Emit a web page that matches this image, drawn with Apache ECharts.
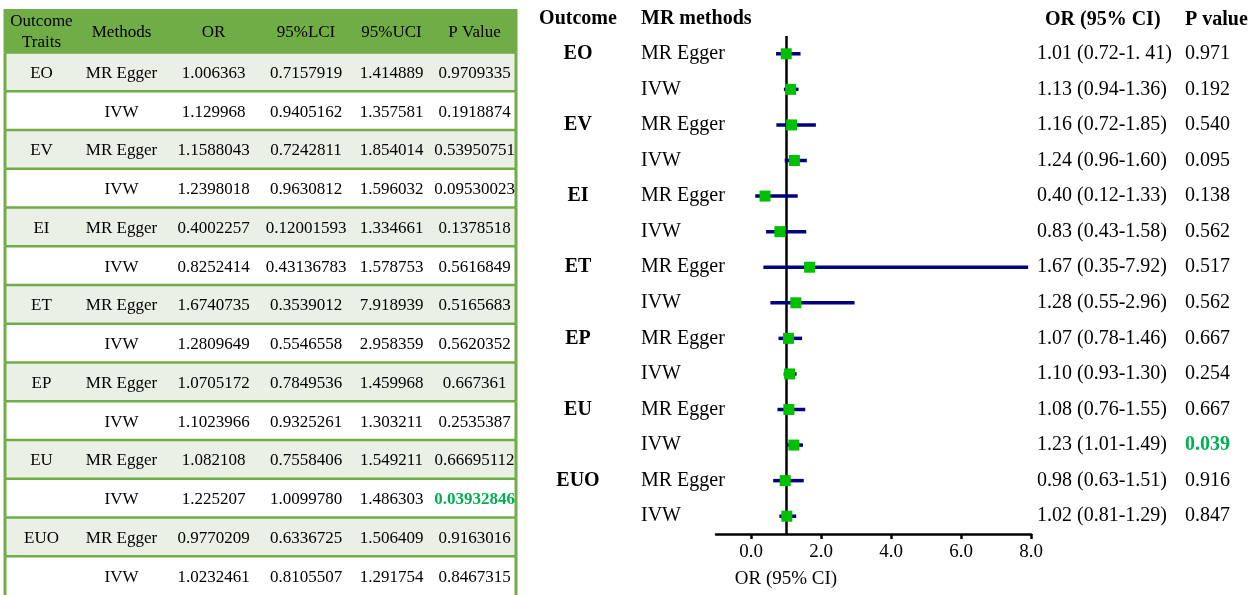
<!DOCTYPE html>
<html><head><meta charset="utf-8">
<script src="https://cdn.jsdelivr.net/npm/echarts@6/dist/echarts.min.js"></script>
<style>html,body{margin:0;padding:0;background:#fff}#c{width:1259px;height:595px}</style>
</head><body><div id="c"></div>
<script>
// ---------- data ----------
const outcomes = ['EO', 'EV', 'EI', 'ET', 'EP', 'EU', 'EUO'];
const methods = ['MR Egger', 'IVW', 'MR Egger', 'IVW', 'MR Egger', 'IVW', 'MR Egger', 'IVW',
                 'MR Egger', 'IVW', 'MR Egger', 'IVW', 'MR Egger', 'IVW'];
const orText  = ['1.006363', '1.129968', '1.1588043', '1.2398018', '0.4002257', '0.8252414', '1.6740735',
                 '1.2809649', '1.0705172', '1.1023966', '1.082108', '1.225207', '0.9770209', '1.0232461'];
const lciText = ['0.7157919', '0.9405162', '0.7242811', '0.9630812', '0.12001593', '0.43136783', '0.3539012',
                 '0.5546558', '0.7849536', '0.9325261', '0.7558406', '1.0099780', '0.6336725', '0.8105507'];
const uciText = ['1.414889', '1.357581', '1.854014', '1.596032', '1.334661', '1.578753', '7.918939',
                 '2.958359', '1.459968', '1.303211', '1.549211', '1.486303', '1.506409', '1.291754'];
const pText   = ['0.9709335', '0.1918874', '0.53950751', '0.09530023', '0.1378518', '0.5616849', '0.5165683',
                 '0.5620352', '0.667361', '0.2535387', '0.66695112', '0.03932846', '0.9163016', '0.8467315'];
const ciLabels = ['1.01 (0.72-1. 41)', '1.13 (0.94-1.36)', '1.16 (0.72-1.85)', '1.24 (0.96-1.60)',
                  '0.40 (0.12-1.33)', '0.83 (0.43-1.58)', '1.67 (0.35-7.92)', '1.28 (0.55-2.96)',
                  '1.07 (0.78-1.46)', '1.10 (0.93-1.30)', '1.08 (0.76-1.55)', '1.23 (1.01-1.49)',
                  '0.98 (0.63-1.51)', '1.02 (0.81-1.29)'];
const pLabels = ['0.971', '0.192', '0.540', '0.095', '0.138', '0.562', '0.517', '0.562', '0.667', '0.254',
                 '0.667', '0.039', '0.916', '0.847'];
const tableHeader = ['Outcome\nTraits', 'Methods', 'OR', '95%LCI', '95%UCI', 'P Value'];
const plotHeader = ['Outcome', 'MR methods', 'OR (95% CI)', 'P value'];
const xTicks = [0, 2, 4, 6, 8];
const refValue = 1;

// ---------- layout / style ----------
const FONT = '"Liberation Serif", "Times New Roman", serif';
const colWidths = [73, 87, 97, 88, 83, 83];
const TABLE_W = colWidths.reduce((a, b) => a + b, 0);
const HEADER_TOP = -1.625;
const GREEN = '#70AD47', LIGHT = '#EAF0E6', SIG = '#00B050';

const orVal = orText.map(Number), lciVal = lciText.map(Number), uciVal = uciText.map(Number), pVal = pText.map(Number);
const outcomeRows = methods.map((m, i) => (i % 2 === 0 ? outcomes[i / 2] : ''));

function renderTableRow(params, api) {
  const r = api.value(1);
  const top = r < 0 ? HEADER_TOP : r - 0.5;
  const p0 = api.coord([0, top]);
  const p1 = api.coord([TABLE_W, r + 0.5]);
  const h = p1[1] - p0[1];
  const children = [{
    type: 'rect', shape: { x: p0[0], y: p0[1], width: p1[0] - p0[0], height: h },
    style: { fill: r < 0 ? GREEN : (r % 2 === 0 ? LIGHT : '#ffffff') }
  }];
  if (r >= 0) {
    children.push({ type: 'line', shape: { x1: p0[0], y1: p0[1], x2: p1[0], y2: p0[1] },
      style: { stroke: GREEN, lineWidth: 2.5 } });
  }
  children.push({ type: 'line', shape: { x1: p0[0], y1: p0[1], x2: p0[0], y2: p1[1] }, style: { stroke: GREEN, lineWidth: 3 } });
  children.push({ type: 'line', shape: { x1: p1[0], y1: p0[1], x2: p1[0], y2: p1[1] }, style: { stroke: GREEN, lineWidth: 3 } });
  const cells = r < 0 ? tableHeader
    : [outcomeRows[r], methods[r], orText[r], lciText[r], uciText[r], pText[r]];
  let acc = 0;
  cells.forEach((t, c) => {
    const cx = api.coord([acc + colWidths[c] / 2, r])[0];
    acc += colWidths[c];
    const sig = r >= 0 && c === 5 && pVal[r] < 0.05;
    children.push({
      type: 'text',
      style: {
        text: t, x: cx, y: (p0[1] + p1[1]) / 2 + 1.5, align: 'center', verticalAlign: 'middle',
        fontFamily: FONT, fontSize: 17, lineHeight: 21,
        fontWeight: sig ? 'bold' : 'normal', fill: sig ? SIG : '#000'
      }
    });
  });
  return { type: 'group', children };
}

function renderCI(params, api) {
  const a = api.coord([api.value(0), api.value(1)]);
  const b = api.coord([api.value(2), api.value(1)]);
  return { type: 'line', shape: { x1: a[0], y1: a[1], x2: b[0], y2: b[1] },
    style: { stroke: '#000080', lineWidth: 3.5 } };
}

const hiddenAxis = { axisLine: { show: false }, axisTick: { show: false }, splitLine: { show: false } };
const headStyle = { fontFamily: FONT, fontSize: 20, fontWeight: 'bold', color: '#000' };
const nameStyle = (align, extra) => Object.assign({ align: align }, headStyle, extra || {});

const option = {
  backgroundColor: '#fff',
  animation: false,
  title: [
    { text: plotHeader[0], left: 578, top: 9, textAlign: 'center', padding: 0, textStyle: headStyle },
    { text: plotHeader[1], left: 641, top: 9, textAlign: 'left', padding: 0, textStyle: headStyle }
  ],
  grid: [
    { left: 5, top: 9, width: TABLE_W, height: 591.4 },
    { left: 716, top: 36, width: 315, height: 498 }
  ],
  xAxis: [
    Object.assign({ type: 'value', gridIndex: 0, min: 0, max: TABLE_W, show: false }, hiddenAxis),
    {
      type: 'value', gridIndex: 1, min: -1, max: 8,
      axisLine: { show: true, onZero: false, lineStyle: { color: '#000', width: 2.5 } },
      axisTick: { show: true, customValues: xTicks, length: 5, lineStyle: { color: '#000', width: 2.5 } },
      axisLabel: { customValues: xTicks, formatter: v => v.toFixed(1), margin: 9,
        fontFamily: FONT, fontSize: 19, color: '#000' },
      splitLine: { show: false }
    },
    Object.assign({
      type: 'value', gridIndex: 1, min: -1, max: 8, position: 'bottom',
      axisLabel: { customValues: [refValue], formatter: () => 'OR (95% CI)', margin: 36,
        fontFamily: FONT, fontSize: 19, color: '#000' }
    }, hiddenAxis)
  ],
  yAxis: [
    Object.assign({ type: 'value', gridIndex: 0, min: HEADER_TOP, max: 13.5, inverse: true, show: false }, hiddenAxis),
    Object.assign({
      type: 'category', gridIndex: 1, data: methods, inverse: true, position: 'left', offset: 75,
      axisLabel: { interval: 0, margin: 0, align: 'left', fontFamily: FONT, fontSize: 20, color: '#000' }
    }, hiddenAxis),
    Object.assign({
      type: 'category', gridIndex: 1, data: outcomeRows, inverse: true, position: 'left', offset: 138,
      axisLabel: { interval: 0, margin: 0, align: 'center', fontFamily: FONT, fontSize: 20, fontWeight: 'bold', color: '#000' }
    }, hiddenAxis),
    Object.assign({
      type: 'category', gridIndex: 1, data: ciLabels, inverse: true, position: 'right', offset: 6,
      axisLabel: { interval: 0, margin: 0, align: 'left', fontFamily: FONT, fontSize: 20, color: '#000' },
      name: plotHeader[2], nameLocation: 'start', nameGap: 6, nameMoveOverlap: false,
      nameTextStyle: nameStyle('left', { padding: [0, 0, 0, 8] })
    }, hiddenAxis),
    Object.assign({
      type: 'category', gridIndex: 1, data: pLabels, inverse: true, position: 'right', offset: 154,
      axisLabel: { interval: 0, margin: 0, align: 'left', fontFamily: FONT, fontSize: 20, color: '#000',
        formatter: (v, i) => (pVal[i] < 0.05 ? '{s|' + v + '}' : v),
        rich: { s: { fontFamily: FONT, fontSize: 20, fontWeight: 'bold', color: SIG } } },
      name: plotHeader[3], nameLocation: 'start', nameGap: 6, nameMoveOverlap: false, nameTextStyle: nameStyle('left')
    }, hiddenAxis)
  ],
  series: [
    {
      type: 'custom', xAxisIndex: 0, yAxisIndex: 0, renderItem: renderTableRow, silent: true,
      data: [-1].concat(methods.map((m, i) => i)).map(r => [0, r])
    },
    {
      type: 'custom', xAxisIndex: 1, yAxisIndex: 1, renderItem: renderCI, silent: true, z: 3,
      data: methods.map((m, i) => [lciVal[i], i, uciVal[i]])
    },
    {
      type: 'scatter', xAxisIndex: 1, yAxisIndex: 1, symbol: 'rect', symbolSize: 11, z: 4, silent: true,
      itemStyle: { color: '#00C000', opacity: 1 },
      data: methods.map((m, i) => [orVal[i], i]),
      markLine: {
        silent: true, symbol: 'none', label: { show: false }, z: 2,
        lineStyle: { color: '#000', width: 2.5, type: 'solid' },
        data: [{ xAxis: refValue }]
      }
    }
  ]
};
const chart = echarts.init(document.getElementById('c'), null, { renderer: 'canvas' });
chart.setOption(option);
</script></body></html>
